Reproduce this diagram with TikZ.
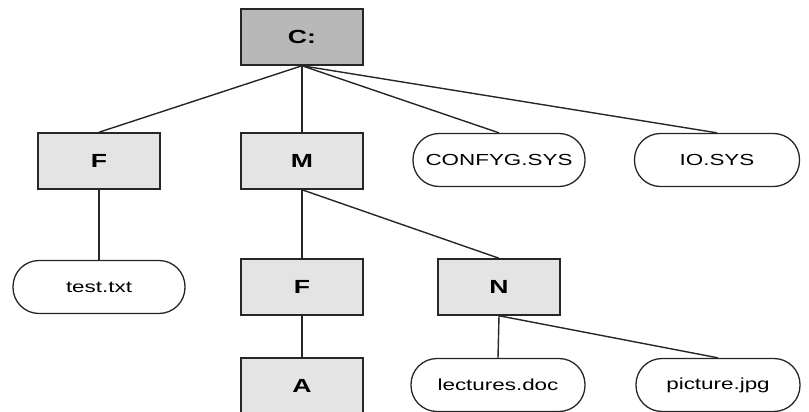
\documentclass[tikz,border=0pt]{standalone}
\usepackage{fontspec}
\newfontfamily\treefont[FakeStretch=1.4]{Liberation Sans}
\usepackage{tikz}
\usetikzlibrary{positioning,shapes}
\definecolor{drivegray}{HTML}{B8B8B8}
\definecolor{foldergray}{HTML}{E4E4E4}
\definecolor{edgegray}{HTML}{262626}
\tikzset{%
	folder/.style={%
		rectangle,
		draw=edgegray,
		line width=1.5pt,
		fill=foldergray,
		minimum width=122pt,
		minimum height=56pt,
		font=\treefont\fontsize{19}{22}\selectfont\bfseries
	},
	drive/.style={%
		folder,
		fill=drivegray
	},
	file/.style={%
		rectangle,
		rounded corners=26pt,
		draw=edgegray,
		line width=1.3pt,
		fill=white,
		minimum height=53pt,
		font=\treefont\fontsize{16}{19}\selectfont
	},
	link/.style={draw=edgegray, line width=1.4pt}
}

\begin{document}
\begin{tikzpicture}[x=1pt, y=-1pt]
        \useasboundingbox (0,0) rectangle (809,412);
        \node [drive] (c) at (302,37) {C:};
        \node [folder] (f) at (99,161) {F};
        \node [folder] (m) at (302,161) {M};
        \node [file, minimum width=172pt] (confyg) at (499,160) {CONFYG.SYS};
        \node [file, minimum width=165pt] (io) at (717,160) {IO.SYS};
        \node [file, minimum width=172pt] (test) at (99,287) {test.txt};
        \node [folder] (mf) at (302,287) {F};
        \node [folder] (n) at (499,287) {N};
        \node [folder] (a) at (302,386) {A};
        \node [file, minimum width=174pt] (lectures) at (498,385) {lectures.doc};
        \node [file, minimum width=164pt] (picture) at (718,385) {picture.jpg};
        \path [link] (c.south) -- (f.north);
        \path [link] (c.south) -- (m.north);
        \path [link] (c.south) -- (confyg.north);
        \path [link] (c.south) -- (io.north);
        \path [link] (f) -- (test);
        \path [link] (m.south) -- (mf.north);
        \path [link] (m.south) -- (n.north);
        \path [link] (mf) -- (a);
        \path [link] (n.south) -- (lectures.north);
        \path [link] (n.south) -- (picture.north);
    \end{tikzpicture}
\end{document}
